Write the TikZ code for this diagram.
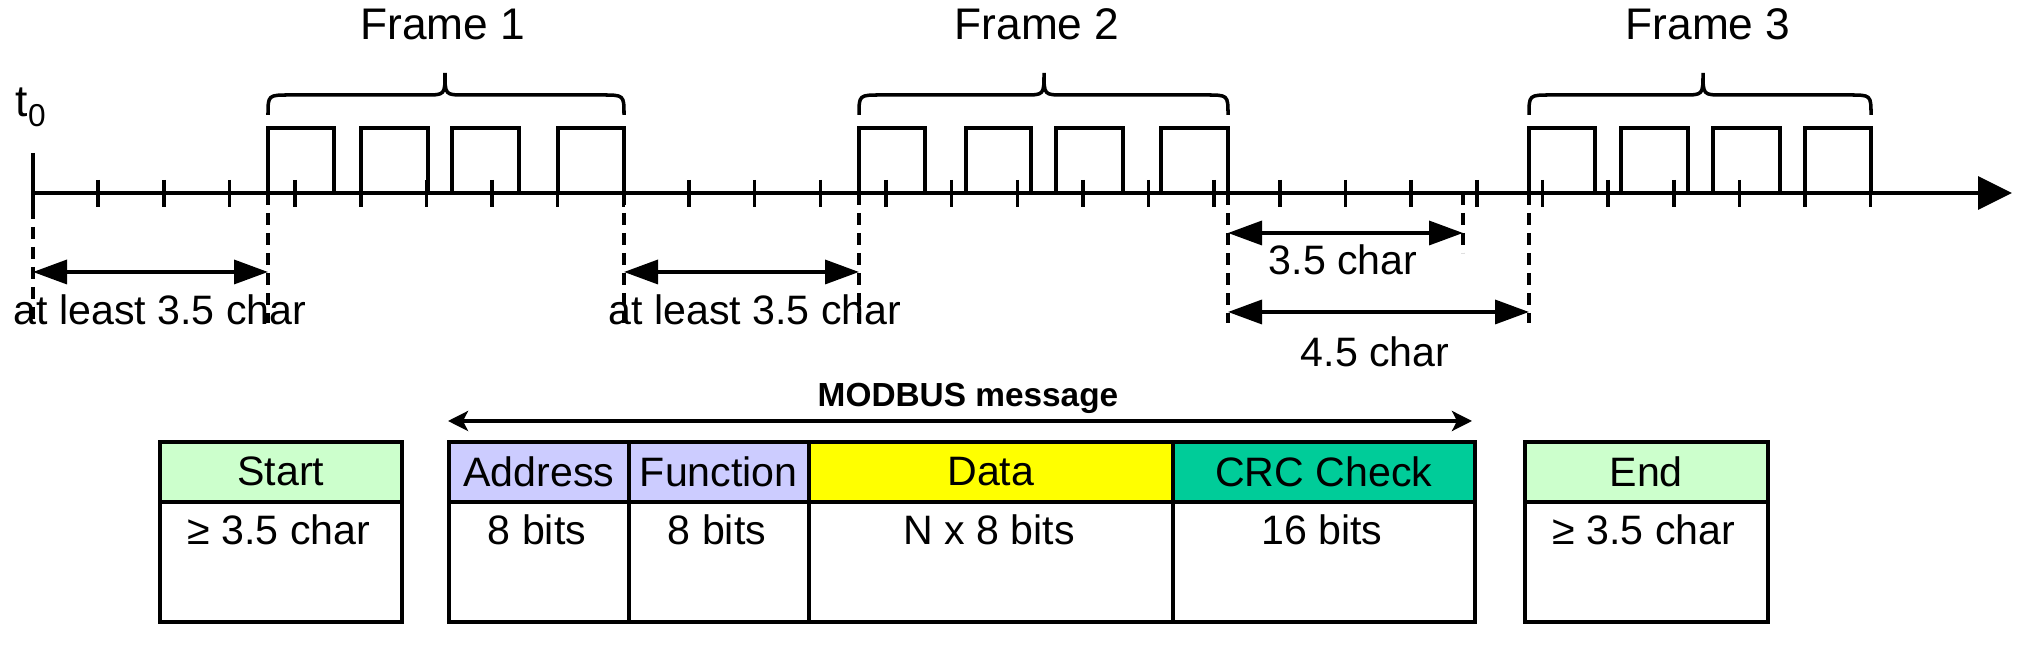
\documentclass[tikz,border=0pt]{standalone}
\usepackage{fontspec}
\setmainfont{Liberation Sans}
\usetikzlibrary{arrows.meta}
\definecolor{startgreen}{HTML}{CCFFCC}
\definecolor{addrblue}{HTML}{CCCCFF}
\definecolor{datayellow}{HTML}{FFFF00}
\definecolor{crcgreen}{HTML}{00CC99}
\begin{document}
\begin{tikzpicture}[x=0.1mm,y=-0.1mm,line width=1pt,line join=miter,
  txt/.style={font=\fontsize{11.7}{14}\selectfont,inner sep=0pt,anchor=base},
  frametxt/.style={font=\fontsize{12.6}{15}\selectfont,inner sep=0pt,anchor=base},
  dimarrow/.style={{Triangle[length=3.4mm,width=2.4mm]}-{Triangle[length=3.4mm,width=2.4mm]}},
  axisarrow/.style={-{Triangle[length=3.4mm,width=3.3mm]}},
  msgarrow/.style={{Stealth[length=2mm,width=2mm,inset=0.5mm]}-{Stealth[length=2mm,width=2mm,inset=0.5mm]}},
  guide/.style={dash pattern=on 1.2mm off 0.8mm},
  cell/.style={draw,rectangle,inner sep=0pt,anchor=north west,font=\fontsize{11.7}{14}\selectfont},
  hdr/.style={cell,minimum height=6mm},
  bdy/.style={cell,minimum height=12mm}]
\useasboundingbox (0,0) rectangle (2022,650);

% time axis
\coordinate (axs) at (33,193);
\coordinate (axe) at (2012,193);
\draw[axisarrow] (axs) -- (axe);
\coordinate (t0top) at (33,153);
\draw (t0top) -- (33,207);
\node[anchor=base west,inner sep=0pt,font=\fontsize{12.6}{15}\selectfont] (t0) at (14,117)
  {t\raisebox{-2.6pt}{\fontsize{9}{9}\selectfont 0}};

% ticks
\foreach \k in {1,...,28} \draw ({32.5+65.65*\k},180) -- ++(0,27);

% pulses
\foreach \a/\b in {268/334,361/428,452/519,558/624,
                   859/925,966/1031,1056/1123,1161/1228,
                   1529/1595,1621/1688,1713/1780,1805/1871}
  \draw (\a,193) -- (\a,128) -- (\b,128) -- (\b,193);

% braces
\foreach \l/\r/\c in {268/624/445,859/1228/1044,1529/1871/1703}
  \draw (\l,115) .. controls (\l,95) .. (\l+22,95) -- (\c-20,95)
        .. controls (\c,95) .. (\c,73) .. controls (\c,95) .. (\c+20,95)
        -- (\r-22,95) .. controls (\r,95) .. (\r,115);

\node[frametxt] (f1) at (443,40) {Frame 1};
\node[frametxt] (f2) at (1037,40) {Frame 2};
\node[frametxt] (f3) at (1708,40) {Frame 3};

% guide lines
\coordinate (g0a) at (33,207);   \coordinate (g0b) at (33,323);
\coordinate (g1a) at (268,193);  \coordinate (g1b) at (268,323);
\coordinate (g2a) at (624,193);  \coordinate (g2b) at (624,323);
\coordinate (g3a) at (859,193);  \coordinate (g3b) at (859,323);
\coordinate (g4a) at (1228,193); \coordinate (g4b) at (1228,323);
\coordinate (g5a) at (1463,193); \coordinate (g5b) at (1463,253);
\coordinate (g6a) at (1529,193); \coordinate (g6b) at (1529,323);
\foreach \g in {0,...,6} \draw[guide] (g\g a) -- (g\g b);

% dimension arrows
\coordinate (d1a) at (33,272);   \coordinate (d1b) at (268,272);
\coordinate (d2a) at (624,272);  \coordinate (d2b) at (859,272);
\coordinate (d3a) at (1228,233); \coordinate (d3b) at (1463,233);
\coordinate (d4a) at (1228,312); \coordinate (d4b) at (1529,312);
\draw[dimarrow] (d1a) -- (d1b);
\draw[dimarrow] (d2a) -- (d2b);
\draw[dimarrow] (d3a) -- (d3b);
\draw[dimarrow] (d4a) -- (d4b);
\node[txt] (l1) at (160,325) {at least 3.5 char};
\node[txt] (l2) at (755,325) {at least 3.5 char};
\node[txt] (l3) at (1343,275) {3.5 char};
\node[txt] (l4) at (1375,367) {4.5 char};

% MODBUS message arrow
\coordinate (ma) at (448,421);
\coordinate (mb) at (1472,421);
\draw[msgarrow] (ma) -- (mb);
\node[font=\bfseries\fontsize{9.5}{11}\selectfont,inner sep=0pt,anchor=base] (mm) at (968,407) {MODBUS message};

% boxes
\node[hdr,fill=startgreen,minimum width=24.2mm] (sh) at (158,440) {Start};
\node[bdy,minimum width=24.2mm] (sb) at (158,500) {};
\node[hdr,fill=addrblue,minimum width=18mm] (ah) at (447,440) {Address};
\node[bdy,minimum width=18mm] (ab) at (447,500) {};
\node[hdr,fill=addrblue,minimum width=18mm] (fh) at (627,440) {Function};
\node[bdy,minimum width=18mm] (fb) at (627,500) {};
\node[hdr,fill=datayellow,minimum width=36.4mm] (dh) at (807,440) {Data};
\node[bdy,minimum width=36.4mm] (db) at (807,500) {};
\node[hdr,fill=crcgreen,minimum width=30.2mm] (ch) at (1171,440) {CRC Check};
\node[bdy,minimum width=30.2mm] (cb) at (1171,500) {};
\node[hdr,fill=startgreen,minimum width=24.3mm] (eh) at (1523,440) {End};
\node[bdy,minimum width=24.3mm] (eb) at (1523,500) {};

\node[txt] (st) at (279,545) {≥ 3.5 char};
\node[txt] (at) at (537,545) {8 bits};
\node[txt] (ft) at (717,545) {8 bits};
\node[txt] (dt) at (989,545) {N x 8 bits};
\node[txt] (ct) at (1322,545) {16 bits};
\node[txt] (et) at (1644,545) {≥ 3.5 char};
\end{tikzpicture}
\end{document}
